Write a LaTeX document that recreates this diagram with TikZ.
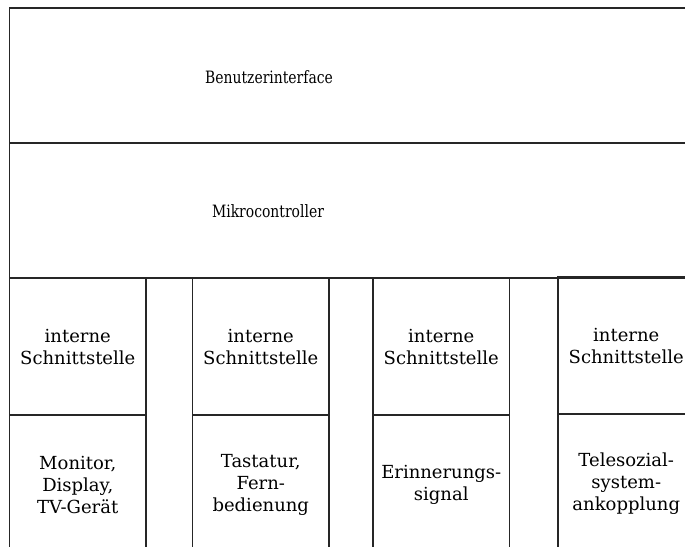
\documentclass[tikz,border=0pt]{standalone}
\usepackage{fontspec}
\setmainfont{DejaVu Serif}
\newfontfamily\headfont[FakeStretch=0.82]{DejaVu Serif}
\begin{document}
\begin{tikzpicture}[x=1pt,y=-1pt,
  frame/.style={draw=black!85, line width=1.1pt, rectangle, anchor=north west,
    outer sep=0pt, inner sep=0pt},
  cell/.style={frame, align=center, font=\fontsize{18}{22}\selectfont},
  upper/.style={cell, minimum width=136.5pt, minimum height=137pt},
  lower/.style={cell, minimum width=136.5pt, minimum height=140pt},
  headtext/.style={font=\headfont\fontsize{17}{21}\selectfont}]
\useasboundingbox (0,0) rectangle (685,546);
\clip (0,0) rectangle (685,546);

% layers of the system
\node[frame, minimum width=720pt, minimum height=135pt] (ui) at (9.5,8) {};
\node[frame, minimum width=720pt, minimum height=135pt] (mc) at (9.5,143) {};
\node[headtext] (uitext) at (269,77) {Benutzerinterface};
\node[headtext] (mctext) at (268,211) {Mikrocontroller};

% interfaces and devices
\node[upper] (if1) at (9.5,278) {interne\\Schnittstelle};
\node[upper] (if2) at (192.5,278) {interne\\Schnittstelle};
\node[upper] (if3) at (373,278) {interne\\Schnittstelle};
\node[upper] (if4) at (558,277) {interne\\Schnittstelle};

\node[lower] (dev1) at (9.5,415) {Monitor,\\Display,\\TV-Gerät};
\node[lower] (dev2) at (192.5,415) {Tastatur,\\Fern-\\bedienung};
\node[lower] (dev3) at (373,415) {Erinnerungs-\\signal};
\node[lower] (dev4) at (558,414) {Telesozial-\\system-\\ankopplung};
\end{tikzpicture}
\end{document}
